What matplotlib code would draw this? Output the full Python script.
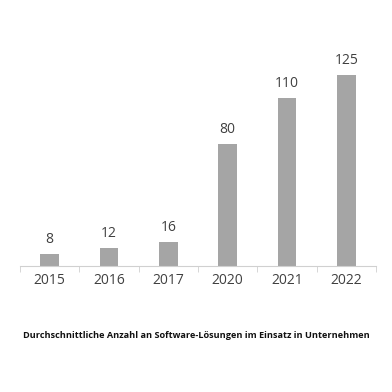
import numpy as np
import matplotlib.pyplot as plt

years = ['2015', '2016', '2017', '2020', '2021', '2022']
values = [8, 12, 16, 80, 110, 125]
title = 'Durchschnittliche Anzahl an Software-Lösungen im Einsatz in Unternehmen'

plt.rcParams['font.family'] = ['Open Sans', 'DejaVu Sans']

fig = plt.figure(figsize=(3.92, 3.92), dpi=100)
# axes in pixel terms: x 20..376, y baseline at 266, top ~37
ax = fig.add_axes([20/392, (392-266)/392, 356/392, 229/392])

x = np.arange(len(years))
bars = ax.bar(x, values, width=0.31, color='#a5a5a5')
ax.set_xlim(-0.5, len(years)-0.5)
ax.set_ylim(0, 150)

for xi, v in zip(x, values):
    ax.annotate(str(v), (xi, v), xytext=(0, 5), textcoords='offset points',
                ha='center', va='bottom', fontsize=10, color='#404040')

for s in ['top', 'right', 'left']:
    ax.spines[s].set_visible(False)
ax.spines['bottom'].set_color('#d0d0d0')
ax.set_yticks([])
ax.set_xticks(x)
ax.set_xticklabels(years, fontsize=10, color='#404040')
ax.tick_params(axis='x', length=0, pad=5)
# boundary ticks between categories
ax.set_xticks(np.arange(-0.5, len(years)), minor=True)
ax.tick_params(axis='x', which='minor', length=4, color='#d0d0d0')

fig.text(0.5, (392-336)/392, title, ha='center', va='center',
         fontsize=6.6, fontweight='bold', color='#111111')

fig.savefig('out.png', dpi=100)
